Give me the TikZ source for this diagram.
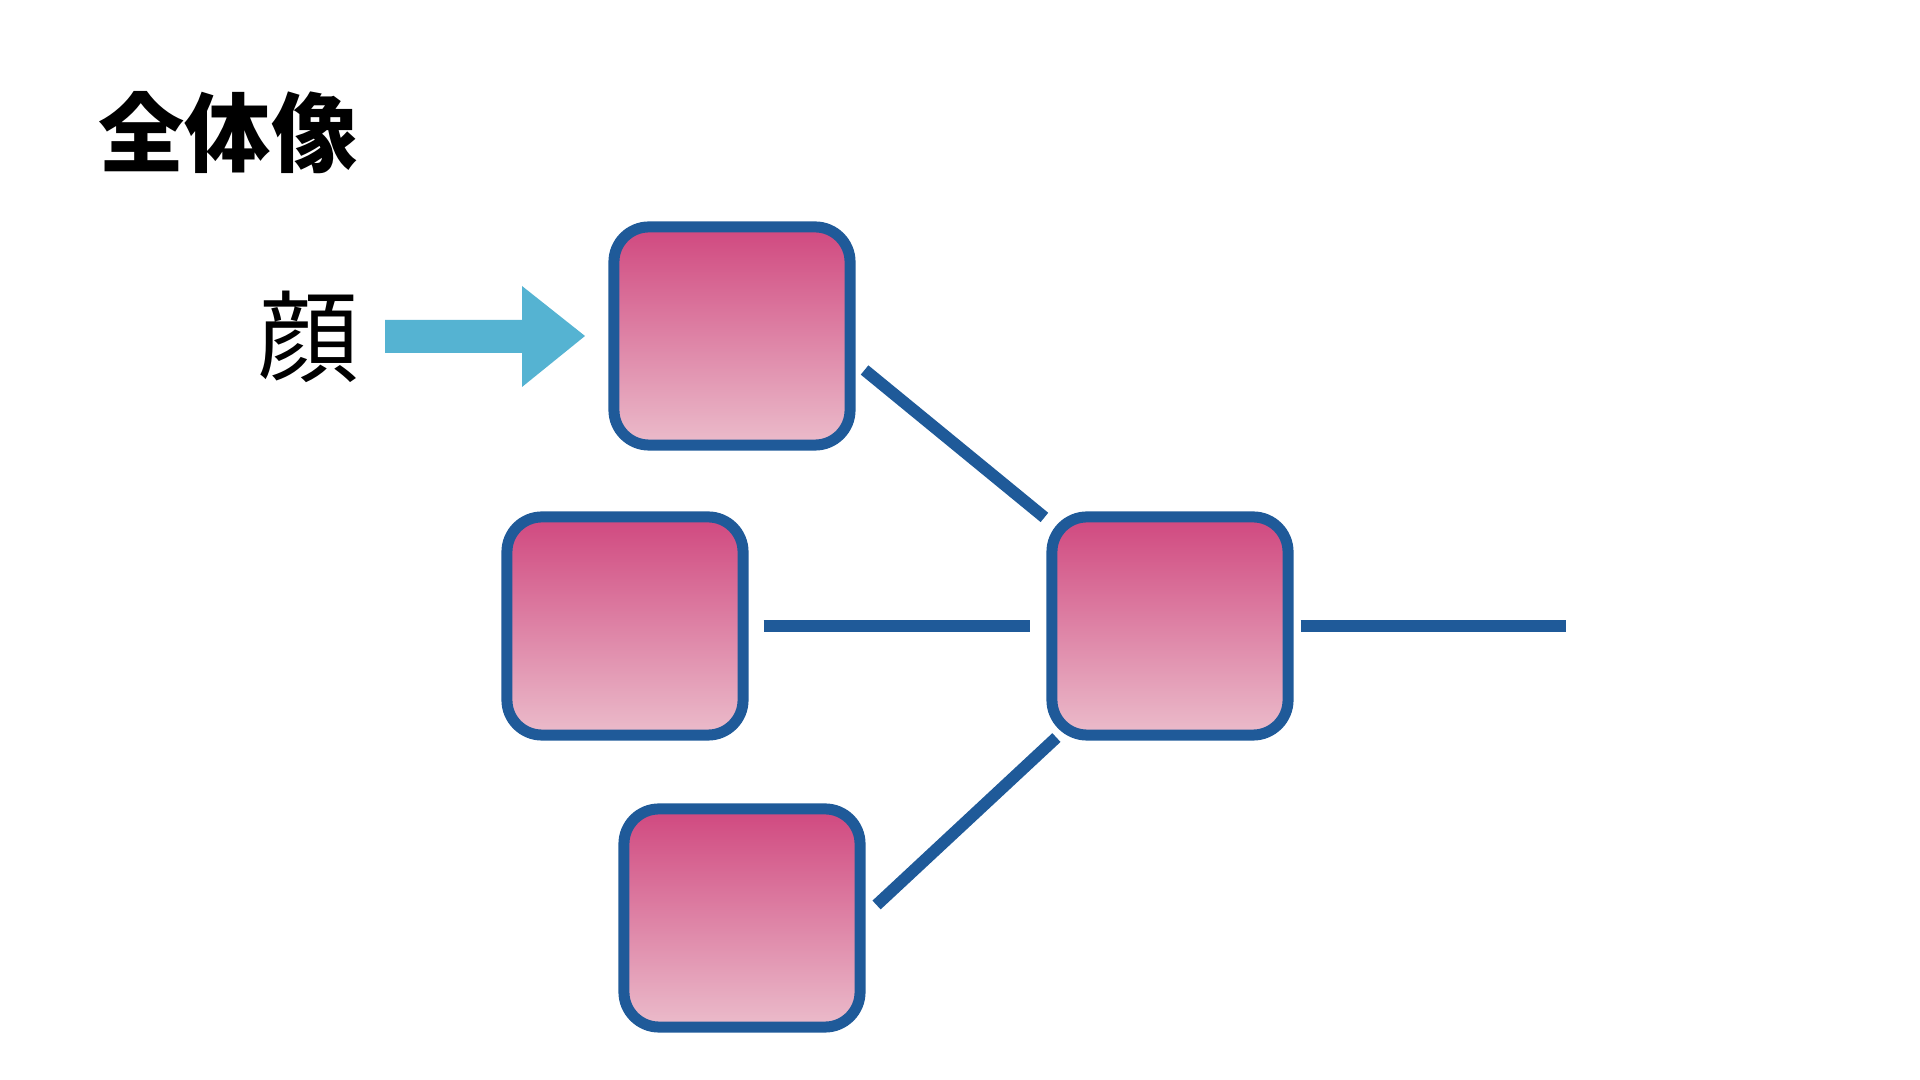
\documentclass[tikz,border=0pt]{standalone}
\usepackage{fontspec}
\newfontfamily\cjk{Noto Sans CJK JP}
\usepackage{tikz}
\usepackage{xcolor}
\definecolor{edgeBlue}{HTML}{1F5A99}
\definecolor{pinkTop}{HTML}{D0487F}
\definecolor{pinkLow}{HTML}{EBBCCB}
\definecolor{arrowCyan}{HTML}{55B3D2}

\begin{document}
\begin{tikzpicture}[%
          x=0.01cm, y=-0.01cm,
          unitbox/.style={draw=edgeBlue, line width=0.11cm, rounded corners=0.35cm,
          top color=pinkTop, bottom color=pinkLow,
          minimum width=2.36cm, minimum height=2.18cm, inner sep=0pt},
          link/.style={draw=edgeBlue, line width=0.12cm}]
          \useasboundingbox (0,0) rectangle (1920,1080);
          \node[anchor=base west, inner sep=0pt] (title) at (98,166)
              {\cjk\bfseries\fontsize{24.5pt}{28pt}\selectfont 全体像};
          \node[anchor=base, inner sep=0pt] (faceLabel) at (309,375)
              {\cjk\fontsize{28.5pt}{32pt}\selectfont 顔};
          \fill[arrowCyan] (385,320) -- (522,320) -- (522,286) -- (585,336)
              -- (522,387) -- (522,353) -- (385,353) -- cycle;
          \node[unitbox] (faceBox) at (732,336) {};
          \node[unitbox] (leftBox) at (625,626) {};
          \node[unitbox] (mergeBox) at (1170,626) {};
          \node[unitbox] (lowBox) at (742,918) {};
          \coordinate (outEnd) at (1566,626);
          \draw[link] ([shift={(9,34)}]faceBox.east) -- ([shift={(-2,6)}]mergeBox.north west);
          \draw[link, shorten <=0.15cm, shorten >=0.16cm] (leftBox.east) -- (mergeBox.west);
          \draw[link] ([shift={(11,-13)}]lowBox.east) -- ([shift={(10,-3)}]mergeBox.south west);
          \draw[link, shorten <=0.07cm] (mergeBox.east) -- (outEnd);
\end{tikzpicture}
\end{document}
